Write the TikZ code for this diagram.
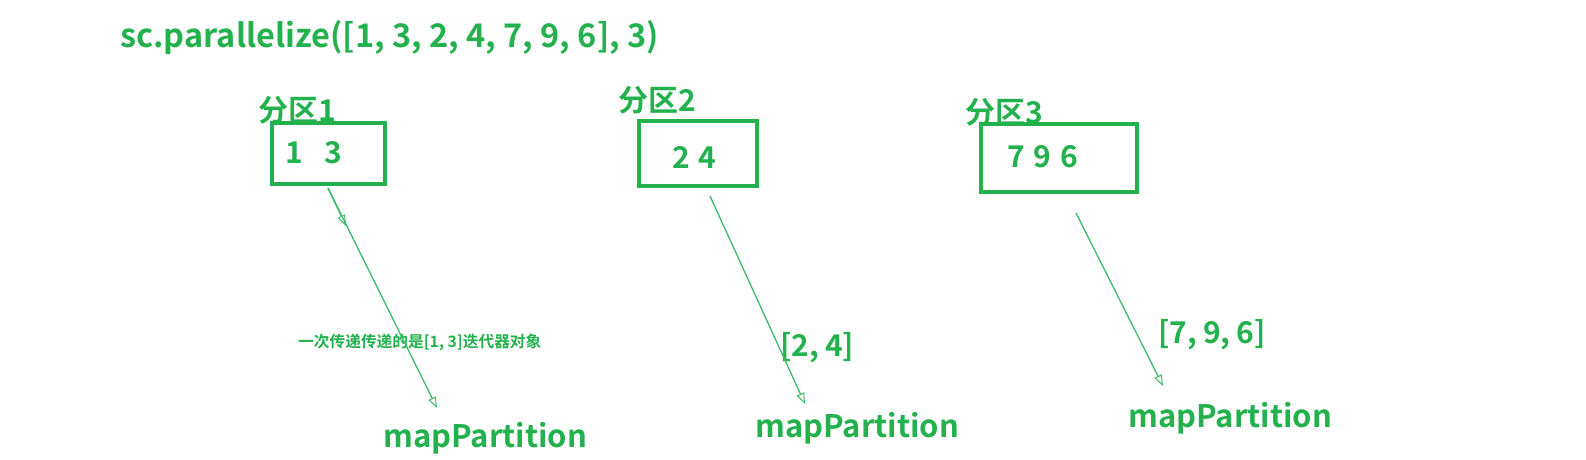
\documentclass[tikz,border=0pt]{standalone}
\usepackage{fontspec}
\setmainfont{Noto Sans CJK SC}[BoldFont={Noto Sans CJK SC Bold}]
\usetikzlibrary{arrows.meta}
\definecolor{pg}{HTML}{22B14C}
\definecolor{ag}{HTML}{3DBA6A}
\tikzset{
  txt/.style={text=pg, font=\bfseries\fontsize{32.5}{32}\selectfont, inner sep=0pt, anchor=west},
  tgt/.style={text=pg, font=\bfseries\fontsize{31}{31}\selectfont, inner sep=0pt, anchor=west},
  lbl/.style={text=pg, font=\bfseries\fontsize{30}{30}\selectfont, inner sep=0pt, anchor=west},
  note/.style={text=pg, font=\bfseries\fontsize{15.7}{16}\selectfont, inner sep=0pt, anchor=west},
  partbox/.style={draw=pg, line width=4pt},
  flow/.style={draw=ag, line width=1.3pt, -{Triangle[open, length=11pt, width=8pt, line width=1pt]}}
}
\begin{document}
\begin{tikzpicture}[x=1pt,y=-1pt]
\useasboundingbox (0,0) rectangle (1586,460);
\node[txt] (title) at (120,37) {sc.parallelize([1, 3, 2, 4, 7, 9, 6], 3)};
% partition 1
\node[lbl] (p1) at (258,110) {分区1};
\draw[partbox] (272,123) rectangle (385,184);
\node[lbl] (v1) at (285,153) {1\hspace{22pt}3};
% partition 2
\node[lbl] (p2) at (618,100) {分区2};
\draw[partbox] (639,121) rectangle (757,186);
\node[lbl] (v2) at (672,157) {2\hspace{9pt}4};
% partition 3
\node[lbl] (p3) at (965,112) {分区3};
\draw[partbox] (981,124) rectangle (1137,192);
\node[lbl] (v3) at (1007,157) {7\hspace{9pt}9\hspace{9pt}6};
% targets
\node[tgt] (m1) at (383,438) {mapPartition};
\node[tgt] (m2) at (755,428) {mapPartition};
\node[tgt] (m3) at (1128,418) {mapPartition};
% labels
\node[note] (n1) at (298,342) {一次传递传递的是[1, 3]迭代器对象};
\node[lbl] (l2) at (780,348) {[2,\hspace{6pt}4]};
\node[lbl] (l3) at (1158,335) {[7,\hspace{6pt}9,\hspace{6pt}6]};
% arrows
\coordinate (a1s) at (328,188); \coordinate (a1e) at (437,408);
\coordinate (a1m) at (346,226);
\coordinate (a2s) at (710,196); \coordinate (a2e) at (805,404);
\coordinate (a3s) at (1076,213); \coordinate (a3e) at (1163,386);
\draw[flow] (a1s) -- (a1m);
\draw[flow] (a1s) -- (a1e);
\draw[flow] (a2s) -- (a2e);
\draw[flow] (a3s) -- (a3e);
\end{tikzpicture}
\end{document}
